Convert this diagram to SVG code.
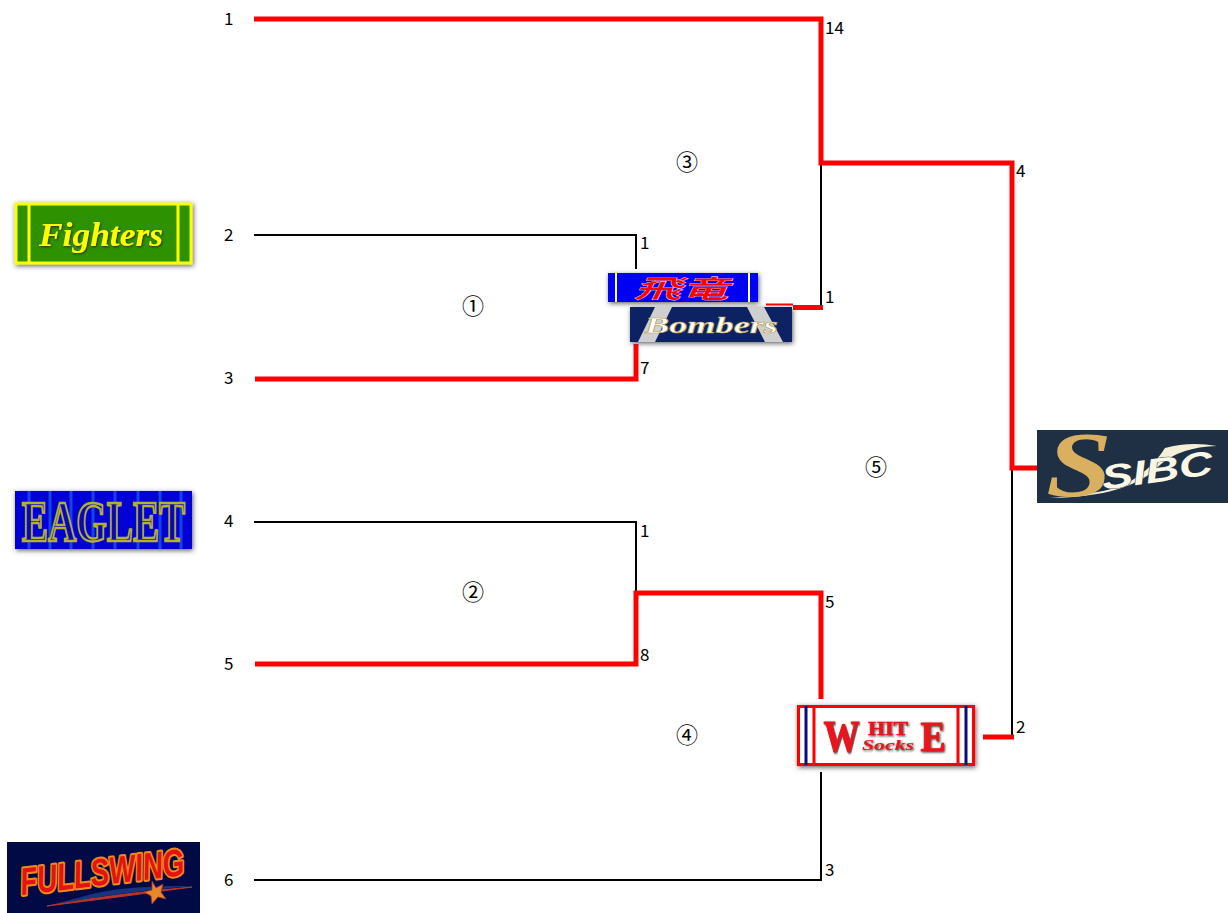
<svg xmlns="http://www.w3.org/2000/svg" width="1228" height="913" viewBox="0 0 1228 913">
<style>
.n{font-family:"Noto Sans CJK JP","Liberation Sans",sans-serif;font-size:17px;fill:#000;dominant-baseline:central}
.c{font-family:"Noto Sans CJK JP","DejaVu Sans",sans-serif;font-size:22px;fill:#000;text-anchor:middle;dominant-baseline:central}
.b{fill:none;stroke:#000;stroke-width:2}
.r{fill:none;stroke:#f00;stroke-width:5}
.t{text-anchor:middle;dominant-baseline:central}
.ser{font-family:"Liberation Serif",serif}
</style>
<defs>
<filter id="s" x="-8%" y="-25%" width="116%" height="150%"><feDropShadow dx="1" dy="1.500" stdDeviation="2.500" flood-color="#444" flood-opacity=".85"/></filter>
<filter id="ts" x="-8%" y="-20%" width="116%" height="140%"><feDropShadow dx="1" dy="1" stdDeviation=".8" flood-color="#222" flood-opacity=".9"/></filter>
</defs>
<g id="connectors">
<path class="b" d="M254 235H636V269"/>
<path class="b" d="M254 522H636V594"/>
<path class="b" d="M821 163V307"/>
<path class="b" d="M821 772V880H254"/>
<path class="b" d="M1012 468V737"/>
<path class="r" d="M254 19H821V163H1012V468H1037"/>
<path class="r" d="M255 379H636V344"/>
<path class="r" d="M255 664H636V593H821V699"/>
<path class="r" d="M793 307.500H823"/>
<path d="M766 304.500H793" stroke="#f00" stroke-width="2" fill="none"/>
<path class="r" d="M983 737H1014"/>
</g>
<g id="seeds">
<text class="n" x="224" y="17">1</text>
<text class="n" x="224" y="233">2</text>
<text class="n" x="224" y="376">3</text>
<text class="n" x="224" y="519">4</text>
<text class="n" x="224" y="662">5</text>
<text class="n" x="224" y="878">6</text>
</g>
<g id="scores">
<text class="n" x="825" y="26">14</text>
<text class="n" x="1016" y="169">4</text>
<text class="n" x="640" y="241">1</text>
<text class="n" x="825" y="295">1</text>
<text class="n" x="640" y="366">7</text>
<text class="n" x="640" y="529">1</text>
<text class="n" x="825" y="600">5</text>
<text class="n" x="640" y="653">8</text>
<text class="n" x="1016" y="725">2</text>
<text class="n" x="825" y="868">3</text>
</g>
<g id="games">
<text class="c" x="473" y="304">①</text>
<text class="c" x="473" y="590">②</text>
<text class="c" x="687" y="160">③</text>
<text class="c" x="687" y="733">④</text>
<text class="c" x="876" y="465">⑤</text>
</g>
<g id="fighters">
<rect x="16" y="204" width="175" height="59" fill="#2e9200" stroke="#ff0" stroke-width="3" filter="url(#s)"/>
<path d="M29 204V263M178 204V263" stroke="#ff0" stroke-width="3"/>
<text class="t ser" x="101" y="235" font-size="33" font-style="italic" font-weight="bold" fill="#ff0" filter="url(#ts)" textLength="124" lengthAdjust="spacingAndGlyphs">Fighters</text>
</g>
<g id="hiryu">
<rect x="608" y="273" width="150" height="29" fill="#0000f5" filter="url(#s)"/>
<path d="M616 273V302M749 273V302" stroke="#fff" stroke-width="2"/>
<text class="t" x="681" y="287" font-family="Noto Sans CJK JP,sans-serif" font-size="25" font-style="italic" font-weight="bold" fill="#f00" stroke="#fff" stroke-width=".3" textLength="95" lengthAdjust="spacingAndGlyphs">飛竜</text>
</g>
<g id="bombers">
<rect x="630" y="307" width="162" height="35" fill="#0c2463" filter="url(#s)"/>
<path d="M638 342L655 307H672L655 342ZM747 307H764L783 342H765Z" fill="#cfcfcf"/>
<text class="t ser" x="711.500" y="325" font-size="24" font-style="italic" font-weight="bold" fill="#fff" stroke="#b9a04a" stroke-width=".6" textLength="133" lengthAdjust="spacingAndGlyphs">Bombers</text>
</g>
<g id="eaglet">
<rect x="15" y="491" width="177" height="58" fill="#0505d6" filter="url(#s)"/>
<path d="M29 491V549M50 491V549M71 491V549M93 491V549M115 491V549M138 491V549M160 491V549M181 491V549" stroke="#1544e2" stroke-width="3"/>
<text class="t ser" transform="translate(103.500 522) scale(.7 1)" font-size="56" font-weight="bold" fill="#0808b8" stroke="#b5b030" stroke-width="2.400">EAGLET</text>
</g>
<g id="fullswing">
<rect x="7" y="842" width="193" height="71" fill="#020a45"/>
<path d="M47 906Q120 892 192 886Q120 885 85 896Z" fill="#17357e"/>
<path d="M47 906Q120 897 192 887Q120 893 47 906Z" fill="#b8332a" stroke="#b8332a"/>
<path d="M152 881L156 888L163 884L161 892L166 899L158 897L152 904L151 896L144 892L152 890Z" fill="#e8862a" stroke="#a8302a" stroke-width=".8"/>
<text class="t" x="102" y="872" font-family="Liberation Sans,sans-serif" font-size="38" font-style="italic" font-weight="bold" fill="#e6120f" stroke="#ef8a1d" stroke-width="4" stroke-linejoin="round" paint-order="stroke" transform="rotate(-7 102 872)" textLength="165" lengthAdjust="spacingAndGlyphs">FULLSWING</text>
</g>
<g id="white">
<rect x="798.500" y="706.500" width="175" height="58" fill="#fff" stroke="#f00" stroke-width="3" filter="url(#s)"/>
<path d="M814 706V765M958 706V765" stroke="#f00" stroke-width="3"/>
<path d="M806 706V765M966 706V765" stroke="#0a0a78" stroke-width="3"/>
<text class="t ser" transform="translate(841.500 736) scale(.8 1)" font-size="45" font-weight="bold" fill="#e8141c" stroke="#e8141c" filter="url(#ts)">W</text>
<text class="t ser" x="888" y="729" font-size="18" font-weight="bold" fill="#e8141c" stroke="#e8141c" stroke-width=".5" filter="url(#ts)" textLength="40" lengthAdjust="spacingAndGlyphs">HIT</text>
<text class="t ser" x="888" y="745" font-size="15" font-style="italic" font-weight="bold" fill="#e8141c" filter="url(#ts)" textLength="52" lengthAdjust="spacingAndGlyphs">Socks</text>
<text class="t ser" x="933" y="736" font-size="43" font-weight="bold" fill="#e8141c" stroke="#e8141c" filter="url(#ts)" textLength="25" lengthAdjust="spacingAndGlyphs">E</text>
</g>
<g id="sibc">
<rect x="1037" y="430" width="191" height="73" fill="#1f3045"/>
<path d="M1050 498Q1130 497 1160 465Q1180 447 1217 446Q1190 441 1165 448Q1150 472 1120 487Q1090 495 1050 498Z" fill="#f5efd8"/>
<text class="t ser" x="1079" y="464" font-size="94" font-style="italic" fill="#d8b060" font-weight="bold" textLength="66" lengthAdjust="spacingAndGlyphs">S</text>
<text class="t" x="1157" y="470" font-family="Liberation Sans,sans-serif" font-size="34" font-style="italic" font-weight="bold" fill="#fbf7e6" stroke="#1f3045" stroke-width=".8" paint-order="stroke" transform="rotate(-8 1157 470)" textLength="112" lengthAdjust="spacingAndGlyphs">SIBC</text>
</g>
</svg>
